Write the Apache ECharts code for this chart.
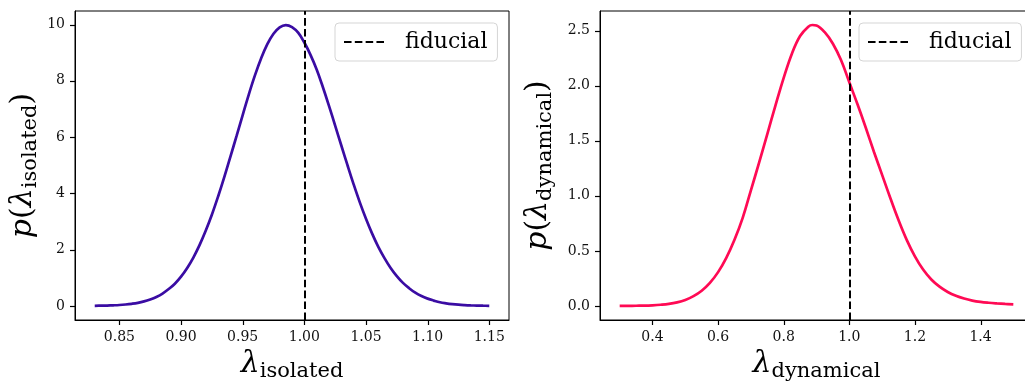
<!DOCTYPE html>
<html>
<head>
<meta charset="utf-8">
<script src="https://cdn.jsdelivr.net/npm/echarts@6/dist/echarts.min.js"></script>
<style>
html,body{margin:0;padding:0;background:#fff;}
#c{width:1025px;height:383px;}
</style>
</head>
<body>
<div id="c"></div>
<script>
// ---- data ----
const lamIso = [0.830,0.835,0.840,0.845,0.850,0.855,0.860,0.865,0.870,0.875,0.880,0.885,0.890,0.895,0.900,0.905,0.910,0.915,0.920,0.925,0.930,0.935,0.940,0.945,0.950,0.955,0.960,0.965,0.970,0.975,0.980,0.985,0.990,0.995,1.000,1.005,1.010,1.015,1.020,1.025,1.030,1.035,1.040,1.045,1.050,1.055,1.060,1.065,1.070,1.075,1.080,1.085,1.090,1.095,1.100,1.105,1.110,1.115,1.120,1.125,1.130,1.135,1.140,1.145,1.150];
const pIso   = [0.005,0.009,0.014,0.022,0.033,0.051,0.076,0.11,0.16,0.23,0.32,0.44,0.60,0.79,1.04,1.35,1.72,2.16,2.67,3.24,3.88,4.57,5.30,6.03,6.78,7.52,8.20,8.80,9.30,9.67,9.90,9.98,9.91,9.71,9.36,8.92,8.40,7.78,7.11,6.41,5.70,5.00,4.32,3.68,3.10,2.57,2.10,1.70,1.35,1.06,0.82,0.63,0.47,0.35,0.26,0.19,0.13,0.093,0.065,0.044,0.030,0.020,0.013,0.008,0.005];
const lamDyn = [0.300,0.325,0.350,0.375,0.400,0.425,0.450,0.475,0.500,0.525,0.550,0.575,0.600,0.625,0.650,0.675,0.700,0.725,0.750,0.775,0.800,0.825,0.850,0.875,0.8875,0.900,0.925,0.950,0.975,1.000,1.025,1.050,1.075,1.100,1.125,1.150,1.175,1.200,1.225,1.250,1.275,1.300,1.325,1.350,1.375,1.400,1.425,1.450,1.475,1.500];
const pDyn   = [0.000,0.001,0.002,0.003,0.006,0.011,0.019,0.033,0.055,0.089,0.138,0.209,0.307,0.437,0.601,0.80,1.05,1.30,1.56,1.82,2.07,2.29,2.45,2.535,2.55,2.545,2.485,2.38,2.23,2.03,1.83,1.62,1.40,1.19,0.98,0.78,0.60,0.45,0.33,0.24,0.175,0.127,0.092,0.067,0.049,0.037,0.029,0.023,0.018,0.014];
const fiducial = 1.0;
const xTicksIso = [0.85,0.90,0.95,1.00,1.05,1.10,1.15];
const yTicksIso = [0,2,4,6,8,10];
const xTicksDyn = [0.4,0.6,0.8,1.0,1.2,1.4];
const yTicksDyn = [0.0,0.5,1.0,1.5,2.0,2.5];
const legendName = 'fiducial';

// axis ranges (matplotlib-style 5% margins)
const xRangeIso = [0.814, 1.166], yRangeIso = [-0.5, 10.48];
const xRangeDyn = [0.24, 1.56],   yRangeDyn = [-0.1275, 2.677];

const SERIF = "'DejaVu Serif', serif";
const tickFont = {fontFamily: SERIF, fontSize: 14, color: '#111'};
const TICK_LEN = 5;

function pairs(xs, ys){ return xs.map((x,i)=>[x, ys[i]]); }

const nameRich = {
  it: {fontFamily: SERIF, fontStyle: 'italic', fontSize: 30, color:'#000', padding:[0,0,3,0], verticalAlign:'bottom'},
  rm: {fontFamily: SERIF, fontSize: 30, color:'#000', padding:[0,0,3,0], verticalAlign:'bottom'},
  sub:{fontFamily: SERIF, fontSize: 21, color:'#000', verticalAlign:'bottom'}
};

function axisCommon(grid, range, ticks, dec){
  return {
    type:'value', gridIndex:grid, min:range[0], max:range[1],
    axisLine:{show:true, onZero:false, lineStyle:{color:'#000', width:1}},
    axisTick:{show:false},
    axisLabel:{show:true, margin:10, customValues:ticks, formatter:v=>v.toFixed(dec), ...tickFont},
    splitLine:{show:false}
  };
}
function xAxisCfg(grid, range, ticks, dec, sub){
  return Object.assign(axisCommon(grid, range, ticks, dec), {
    name:'{it|λ}{sub|'+sub+'}', nameLocation:'middle', nameGap:26,
    nameTextStyle:{rich:nameRich}
  });
}
function yAxisCfg(grid, range, ticks, dec, sub, gap){
  return Object.assign(axisCommon(grid, range, ticks, dec), {
    name:'{it|p}{rm|(}{it|λ}{sub|'+sub+'}{rm|)}', nameLocation:'middle', nameGap:gap, nameRotate:90,
    nameTextStyle:{rich:nameRich}
  });
}

const dashIcon = 'path://M0,0H7.6V2H0Z M10.9,0H18.5V2H10.9Z M21.8,0H29.4V2H21.8Z M32.7,0H40.3V2H32.7Z';
function legendCfg(left){
  return {
    data:[legendName], left:left, top:23, orient:'vertical',
    icon: dashIcon, itemWidth:40, itemHeight:2,
    padding:[8,10,8,9],
    backgroundColor:'rgba(255,255,255,0.8)', borderColor:'#d5d5d5', borderWidth:1, borderRadius:4,
    textStyle:{fontFamily:SERIF, fontSize:22, color:'#000', padding:[0,0,0,16]},
    selectedMode:false
  };
}

function fidSeries(idx){
  return {
    name: legendName, type:'line', xAxisIndex:idx, yAxisIndex:idx, data:[],
    color:'#000', itemStyle:{color:'#000'},
    markLine:{
      silent:true, symbol:['none','none'], label:{show:false},
      lineStyle:{color:'#000', width:2, type:[7.6,3.3]},
      data:[{xAxis: fiducial}]
    }
  };
}

const chart = echarts.init(document.getElementById('c'), null, {renderer:'canvas'});
chart.setOption({
  animation:false,
  backgroundColor:'#fff',
  grid:[
    {left:75, top:11, width:434, height:309, show:true, borderColor:'#000', borderWidth:1, backgroundColor:'transparent', outerBoundsMode:'none', containLabel:false},
    {left:600, top:11, width:433, height:309, show:true, borderColor:'#000', borderWidth:1, backgroundColor:'transparent', outerBoundsMode:'none', containLabel:false}
  ],
  xAxis:[
    xAxisCfg(0, xRangeIso, xTicksIso, 2, 'isolated'),
    xAxisCfg(1, xRangeDyn, xTicksDyn, 1, 'dynamical')
  ],
  yAxis:[
    yAxisCfg(0, yRangeIso, yTicksIso, 0, 'isolated', 34),
    yAxisCfg(1, yRangeDyn, yTicksDyn, 1, 'dynamical', 44)
  ],
  legend:[legendCfg(335), legendCfg(859)],
  series:[
    {type:'line', xAxisIndex:0, yAxisIndex:0, data:pairs(lamIso,pIso), showSymbol:false, symbol:'none', smooth:0.4,
     lineStyle:{color:'#3a0ca3', width:2.7}, color:'#3a0ca3'},
    fidSeries(0),
    {type:'line', xAxisIndex:1, yAxisIndex:1, data:pairs(lamDyn,pDyn), showSymbol:false, symbol:'none', smooth:0.4,
     lineStyle:{color:'#ff0a54', width:2.7}, color:'#ff0a54'},
    fidSeries(1)
  ]
});

// tick marks: positions obtained from the chart's own axis scales
function tickGraphics(gridIndex, xTicks, yTicks, xRange, yRange){
  const out = [];
  xTicks.forEach(v=>{
    const p = chart.convertToPixel({gridIndex:gridIndex}, [v, yRange[0]]);
    const x = Math.round(p[0]) + 0.5, y = Math.round(p[1]);
    out.push({type:'line', silent:true, z:50, shape:{x1:x, y1:y, x2:x, y2:y+TICK_LEN}, style:{stroke:'#000', lineWidth:1.2}});
  });
  yTicks.forEach(v=>{
    const p = chart.convertToPixel({gridIndex:gridIndex}, [xRange[0], v]);
    const x = Math.round(p[0]), y = Math.round(p[1]) + 0.5;
    out.push({type:'line', silent:true, z:50, shape:{x1:x-TICK_LEN, y1:y, x2:x, y2:y}, style:{stroke:'#000', lineWidth:1.2}});
  });
  return out;
}
chart.setOption({
  graphic: tickGraphics(0, xTicksIso, yTicksIso, xRangeIso, yRangeIso)
          .concat(tickGraphics(1, xTicksDyn, yTicksDyn, xRangeDyn, yRangeDyn))
});
</script>
</body>
</html>
